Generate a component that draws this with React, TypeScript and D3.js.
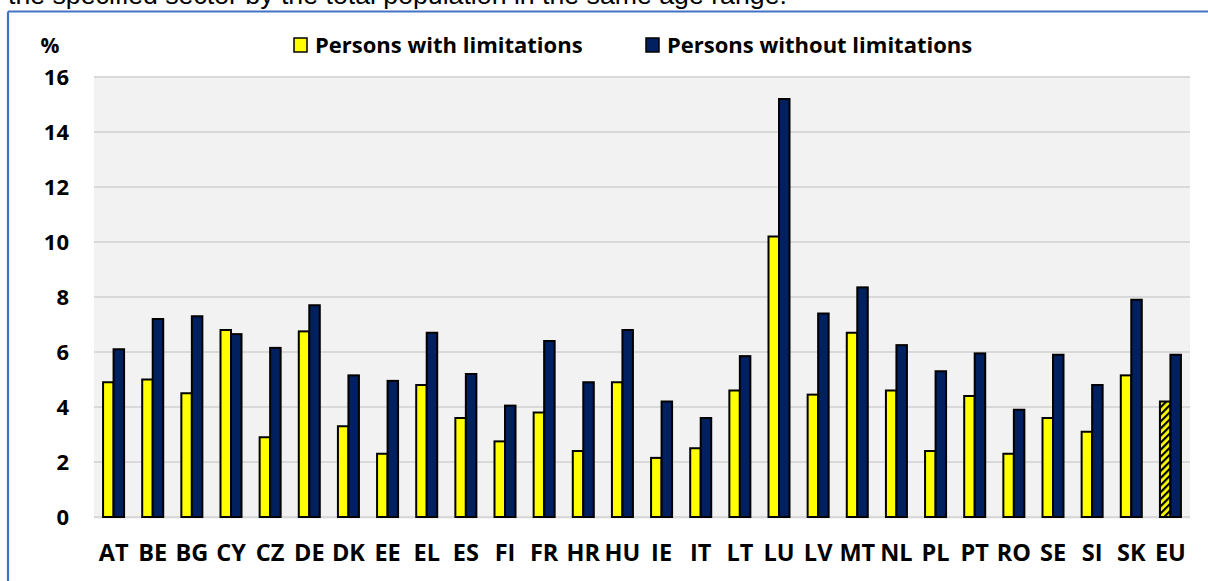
import React, { useEffect, useRef } from 'react';
import * as d3 from 'd3';

const countries = ['AT', 'BE', 'BG', 'CY', 'CZ', 'DE', 'DK', 'EE', 'EL', 'ES', 'FI', 'FR', 'HR', 'HU',
  'IE', 'IT', 'LT', 'LU', 'LV', 'MT', 'NL', 'PL', 'PT', 'RO', 'SE', 'SI', 'SK', 'EU'];
const withLimitations = [4.9, 5.0, 4.5, 6.8, 2.9, 6.75, 3.3, 2.3, 4.8, 3.6, 2.75, 3.8, 2.4, 4.9,
  2.15, 2.5, 4.6, 10.2, 4.45, 6.7, 4.6, 2.4, 4.4, 2.3, 3.6, 3.1, 5.15, 4.2];
const withoutLimitations = [6.1, 7.2, 7.3, 6.65, 6.15, 7.7, 5.15, 4.95, 6.7, 5.2, 4.05, 6.4, 4.9, 6.8,
  4.2, 3.6, 5.85, 15.2, 7.4, 8.35, 6.25, 5.3, 5.95, 3.9, 5.9, 4.8, 7.9, 5.9];
const yTicks = [0, 2, 4, 6, 8, 10, 12, 14, 16];
const seriesNames = ['Persons with limitations', 'Persons without limitations'];
const seriesColors = ['#FFFF00', '#002060'];

const W = 1208;
const H = 581;
const FONT = '"Open Sans", Lato, sans-serif';

export default function App() {
  const ref = useRef<SVGSVGElement>(null);

  useEffect(() => {
    const svg = d3.select(ref.current);
    svg.selectAll('*').remove();

    const defs = svg.append('defs');
    const pat = defs.append('pattern')
      .attr('id', 'euHatch')
      .attr('patternUnits', 'userSpaceOnUse')
      .attr('width', 5)
      .attr('height', 5)
      .attr('patternTransform', 'rotate(-45)');
    pat.append('rect').attr('width', 5).attr('height', 5).attr('fill', '#FFFF00');
    pat.append('rect').attr('width', 5).attr('height', 2.2).attr('fill', '#000');

    // caption text cut off at the top
    svg.append('text')
      .attr('x', 8)
      .attr('y', 4)
      .attr('font-family', 'Arial, "Liberation Sans", sans-serif')
      .attr('font-size', 26.7)
      .attr('fill', '#000')
      .text('the specified sector by the total population in the same age range.');

    // frame
    svg.append('line').attr('x1', 8).attr('x2', W).attr('y1', 11.5).attr('y2', 11.5)
      .attr('stroke', '#4472C4').attr('stroke-width', 2.2);
    svg.append('line').attr('x1', 8).attr('x2', 8).attr('y1', 11.5).attr('y2', H)
      .attr('stroke', '#4472C4').attr('stroke-width', 2.2);

    const x = d3.scaleBand().domain(countries).range([94, 1190]).padding(0);
    const y = d3.scaleLinear().domain([0, 16]).range([517, 77]);

    // plot area
    svg.append('rect')
      .attr('x', 94).attr('y', y(16))
      .attr('width', 1190 - 94).attr('height', y(0) - y(16) + 2)
      .attr('fill', '#F2F2F2');

    svg.append('g').selectAll('line')
      .data(yTicks)
      .join('line')
      .attr('x1', 94).attr('x2', 1190)
      .attr('y1', d => y(d)).attr('y2', d => y(d))
      .attr('stroke', '#D9D9D9').attr('stroke-width', 2);

    svg.append('g').selectAll('text')
      .data(yTicks)
      .join('text')
      .attr('x', 69)
      .attr('y', d => y(d))
      .attr('dy', '0.36em')
      .attr('text-anchor', 'end')
      .attr('font-family', FONT)
      .attr('font-weight', 'bold')
      .attr('font-size', 22)
      .text(d => d);

    svg.append('text')
      .attr('x', 50).attr('y', 45).attr('dy', '0.36em')
      .attr('text-anchor', 'middle')
      .attr('font-family', FONT).attr('font-weight', 'bold').attr('font-size', 21)
      .text('%');

    const barW = 10.5;
    const groups = svg.append('g').selectAll('g')
      .data(countries)
      .join('g')
      .attr('transform', d => `translate(${x(d)! + x.bandwidth() / 2},0)`);

    groups.append('rect')
      .attr('x', -barW)
      .attr('y', (d, i) => y(withLimitations[i]))
      .attr('width', barW)
      .attr('height', (d, i) => y(0) - y(withLimitations[i]))
      .attr('fill', d => d === 'EU' ? 'url(#euHatch)' : seriesColors[0])
      .attr('stroke', '#000').attr('stroke-width', 2);

    groups.append('rect')
      .attr('x', 0)
      .attr('y', (d, i) => y(withoutLimitations[i]))
      .attr('width', barW)
      .attr('height', (d, i) => y(0) - y(withoutLimitations[i]))
      .attr('fill', seriesColors[1])
      .attr('stroke', '#000').attr('stroke-width', 2);

    groups.append('text')
      .attr('y', 553).attr('dy', '0.36em')
      .attr('text-anchor', 'middle')
      .attr('font-family', FONT).attr('font-weight', 'bold').attr('font-size', 23.5)
      .text(d => d);

    // legend
    const legendX = [293, 645];
    const lg = svg.append('g').selectAll('g')
      .data(seriesNames)
      .join('g')
      .attr('transform', (d, i) => `translate(${legendX[i]},45)`);
    lg.append('rect')
      .attr('x', 1).attr('y', -7).attr('width', 13).attr('height', 14)
      .attr('fill', (d, i) => seriesColors[i])
      .attr('stroke', '#000').attr('stroke-width', 1.5);
    lg.append('text')
      .attr('x', 22).attr('dy', '0.36em')
      .attr('font-family', FONT).attr('font-weight', 'bold').attr('font-size', 22)
      .text(d => d);
  }, []);

  return (
    <svg ref={ref} width={W} height={H}
      style={{ position: 'absolute', left: 0, top: 0, background: '#fff' }} />
  );
}
